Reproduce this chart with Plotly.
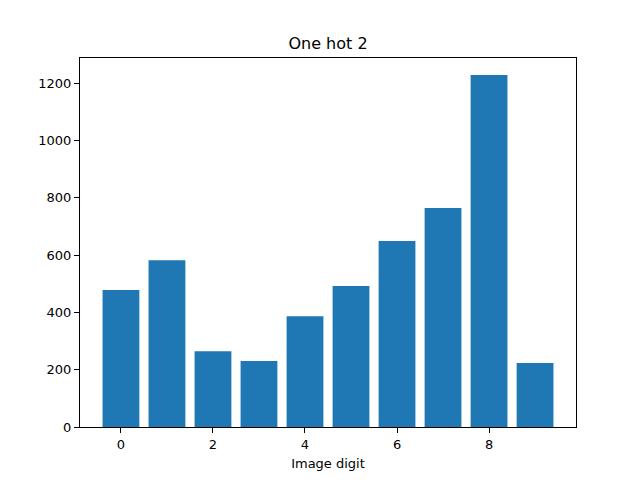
import plotly.graph_objects as go

digits = [0, 1, 2, 3, 4, 5, 6, 7, 8, 9]
counts = [478, 582, 264, 230, 387, 492, 649, 764, 1229, 223]
title = "One hot 2"
xlabel = "Image digit"

fig = go.Figure(go.Bar(x=digits, y=counts, width=0.8, marker=dict(color="#1f77b4", line=dict(width=0))))

font = "DejaVu Sans"
fig.update_layout(
    width=640, height=480,
    margin=dict(l=72, r=72, t=50, b=61),
    paper_bgcolor="white", plot_bgcolor="white",
    font=dict(family=font, size=13, color="black"),
    showlegend=False,
    title=dict(text=title, x=0.5, xanchor="center", xref="paper", y=1 - 35/480, yanchor="middle",
               font=dict(family=font, size=16, color="black")),
)
fig.update_xaxes(range=[-0.89, 9.89], tickvals=[0, 2, 4, 6, 8], ticks="outside", ticklen=5,
                 tickcolor="black", showline=True, mirror=True, linecolor="black", linewidth=1,
                 showgrid=False, zeroline=False,
                 title=dict(text=xlabel, standoff=8, font=dict(family=font, size=13)))
fig.update_yaxes(range=[0, 1288], tickvals=[0, 200, 400, 600, 800, 1000, 1200], ticks="outside", ticklen=5,
                 tickcolor="black", showline=True, mirror=True, linecolor="black", linewidth=1,
                 showgrid=False, zeroline=False)
fig.write_html("out.html")
